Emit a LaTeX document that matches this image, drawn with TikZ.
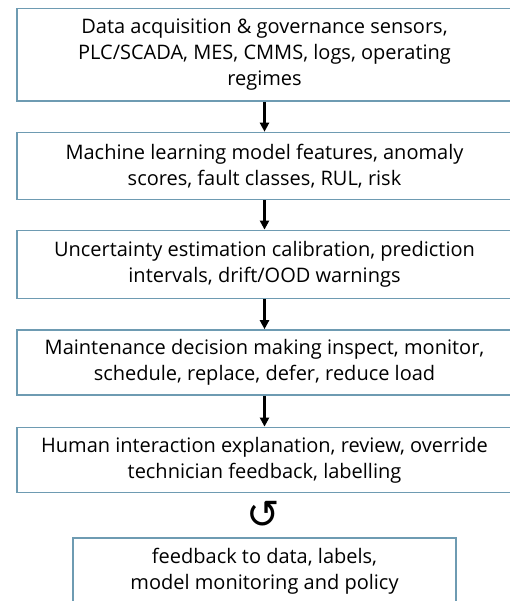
\documentclass[tikz,border=0pt]{standalone}
\usepackage{fontspec}
\setmainfont{Open Sans}
\newfontfamily\symfont{DejaVu Sans}
\usetikzlibrary{arrows.meta}
\definecolor{boxline}{RGB}{110,155,178}

\begin{document}
\begin{tikzpicture}[x=1pt,y=-1pt,
  stage/.style={draw=boxline,line width=1.6pt,fill=white,align=center,inner sep=0pt,
    minimum width=495pt,font=\fontsize{20}{26}\selectfont},
  flow/.style={line width=2.2pt,-{Triangle[length=9pt,width=9pt]}}]
\useasboundingbox (0,0) rectangle (509,601);

\node[stage,minimum height=92.5pt] (1) at (264.5,54.8) {Data acquisition \& governance sensors,\\PLC/SCADA, MES, CMMS, logs, operating\\regimes};
\node[stage,minimum height=67pt] (2) at (264.5,166) {Machine learning model features, anomaly\\scores, fault classes, RUL, risk};
\node[stage,minimum height=68pt] (3) at (264.5,264.4) {Uncertainty estimation calibration, prediction\\intervals, drift/OOD warnings};
\node[stage,minimum height=65pt] (4) at (264.5,362.5) {Maintenance decision making inspect, monitor,\\schedule, replace, defer, reduce load};
\node[stage,minimum height=65pt] (5) at (264.5,459.9) {Human interaction explanation, review, override\\technician feedback, labelling};

\node[font=\symfont\fontsize{40}{40}\selectfont,inner sep=0pt] (r) at (263.5,515) {↺};

\node[stage,minimum width=383pt,minimum height=66pt] (6) at (264.5,571) {feedback to data, labels,\\model monitoring and policy};

\draw[flow] (1) -- (2);
\draw[flow] (2) -- (3);
\draw[flow] (3) -- (4);
\draw[flow] (4) -- (5);
\end{tikzpicture}
\end{document}
